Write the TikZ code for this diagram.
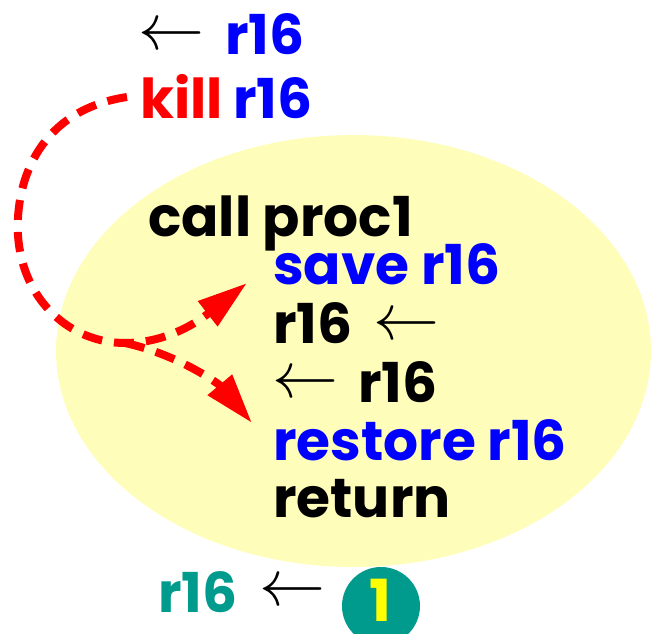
\documentclass[tikz,border=0pt]{standalone}
\usepackage{fontspec}
\newfontfamily\gfont{Poppins}
\usetikzlibrary{arrows.meta}
\definecolor{ellfill}{RGB}{255,253,186}
\definecolor{tealc}{RGB}{0,155,140}
\definecolor{redc}{RGB}{255,0,0}
\definecolor{bluec}{RGB}{0,0,255}
\definecolor{yelc}{RGB}{255,255,0}
\newcommand{\bigarr}{\resizebox{66pt}{!}{$\leftarrow$}}
\begin{document}
\begin{tikzpicture}[x=1pt,y=-1pt,
  txt/.style={anchor=base west, inner sep=0pt, font=\gfont\bfseries\fontsize{55}{55}\selectfont},
  arr/.style={inner sep=0pt},
  flow/.style={draw=redc, line width=8pt, dash pattern=on 20pt off 12pt, -{Triangle[length=50pt,width=30pt]}}]
\useasboundingbox (0,0) rectangle (651,634);
\clip (0,0) rectangle (651,634);
\fill[ellfill] (353.5,351) ellipse [x radius=297.5, y radius=216];
% top
\node[arr] (a1) at (171.5,37) {\bigarr};
\node[txt, text=bluec] (r16a) at (225,55) {r16};
\node[txt, text=redc] (kill) at (140,118) {kill};
\node[txt, text=bluec] (r16b) at (233,118) {r16};
% ellipse text
\node[txt] (call) at (148,236) {call proc1};
\node[txt, text=bluec] (save) at (273,284) {save r16};
\node[txt] (r16c) at (273,343) {r16};
\node[arr] (a2) at (406,327) {\bigarr};
\node[arr] (a3) at (305,385) {\bigarr};
\node[txt] (r16d) at (358,402) {r16};
\node[txt, text=bluec] (restore) at (273,460) {restore r16};
\node[txt] (ret) at (273,517) {return};
% bottom
\node[txt, text=tealc] (r16e) at (158,612) {r16};
\node[arr] (a4) at (292.5,593) {\bigarr};
\node[circle, fill=tealc, minimum size=78pt, inner sep=0pt] (one) at (381,606) {};
\node[inner sep=0pt, text=yelc, font=\gfont\bfseries\fontsize{58}{58}\selectfont] (onet) at (380,600) {1};
% dashed flow
\coordinate (k) at (127,97);
\coordinate (b) at (125,343);
\coordinate (ts) at (247,283);
\coordinate (tr) at (252,423);
\draw[flow] (k) .. controls (40,110) and (15,180) .. (18,235) .. controls (22,300) and (70,343) .. (b) .. controls (175,343) and (210,312) .. (ts);
\draw[flow] (b) .. controls (180,355) and (220,385) .. (tr);
\end{tikzpicture}
\end{document}
